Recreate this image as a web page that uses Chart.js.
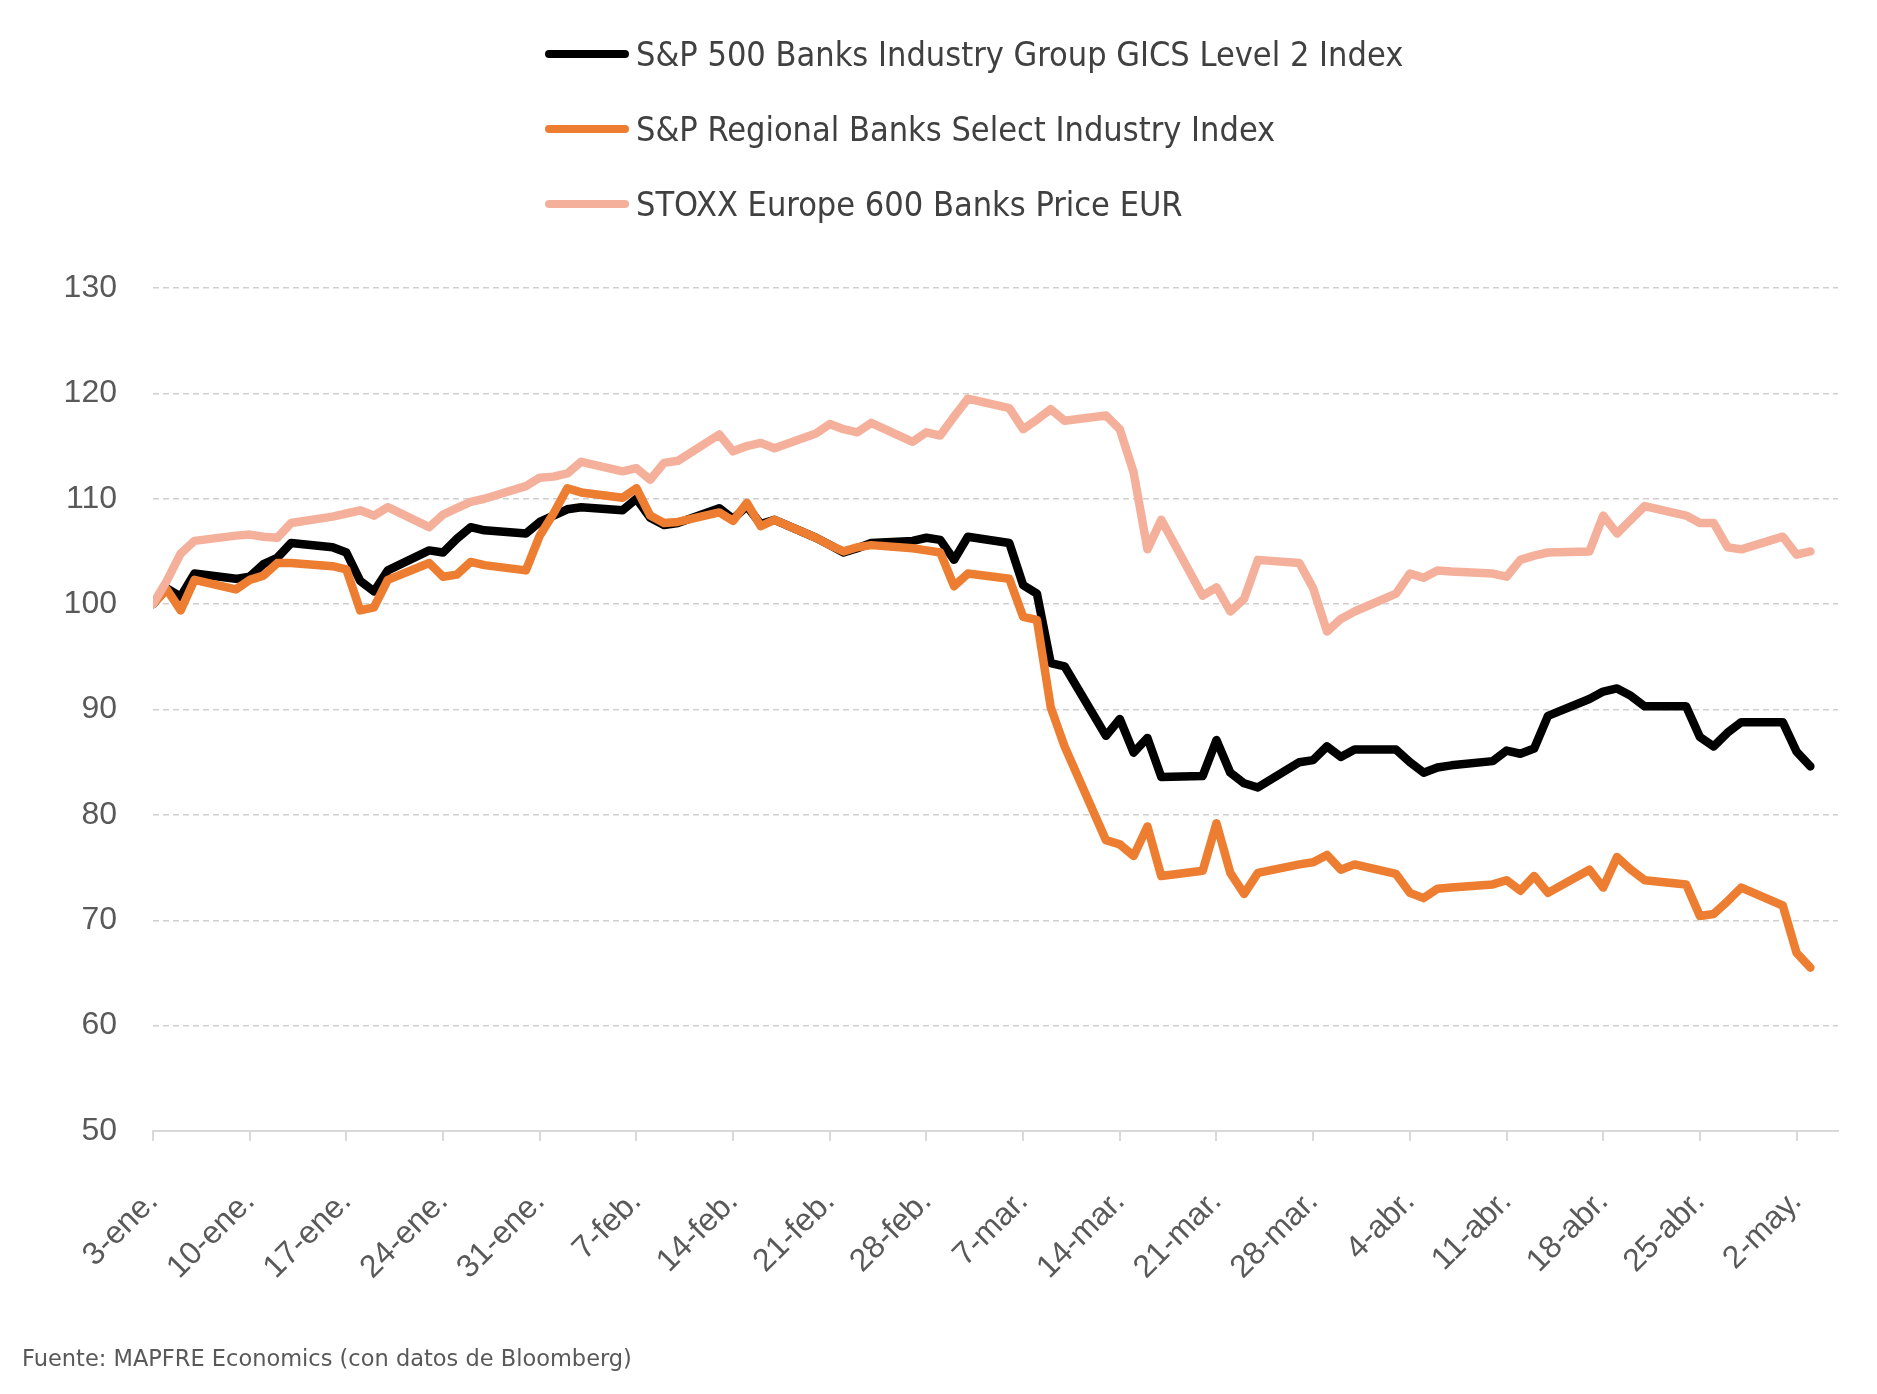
<!DOCTYPE html>
<html lang="es">
<head>
<meta charset="utf-8">
<title>Índices bancarios</title>
<script src="https://cdn.jsdelivr.net/npm/chart.js@4.4.0/dist/chart.umd.min.js"></script>
<style>
  html, body { margin: 0; padding: 0; background: #fff; }
  #page { position: relative; width: 1877px; height: 1394px; overflow: hidden; }
  #chartBox { position: absolute; left: 0; top: 0; width: 1877px; height: 1394px; }
  #legend { position: absolute; left: 545px; top: 0; font-family: 'Liberation Sans Narrow', 'DejaVu Sans Condensed', 'Roboto', sans-serif; font-size: 34px; color: #404040; }
  .legend-item { position: absolute; left: 0; white-space: nowrap; display: flex; align-items: center; height: 40px; }
  .legend-line { width: 84px; height: 8px; border-radius: 4px; margin-right: 7px; }
  #source { position: absolute; left: 22px; top: 1345px; font-family: 'DejaVu Sans', sans-serif; font-size: 22.5px; color: #595959; }
</style>
</head>
<body>
<div id="page">
  <div id="chartBox"><canvas id="banksChart"></canvas></div>
  <div id="legend"></div>
  <div id="source">Fuente: MAPFRE Economics (con datos de Bloomberg)</div>
</div>
<script>
// trading days shown in the chart (2023)
const dates = [
  '2023-01-03', '2023-01-04', '2023-01-05', '2023-01-06',
  '2023-01-09', '2023-01-10', '2023-01-11', '2023-01-12', '2023-01-13',
  '2023-01-16', '2023-01-17', '2023-01-18', '2023-01-19', '2023-01-20',
  '2023-01-23', '2023-01-24', '2023-01-25', '2023-01-26', '2023-01-27',
  '2023-01-30', '2023-01-31', '2023-02-01', '2023-02-02', '2023-02-03',
  '2023-02-06', '2023-02-07', '2023-02-08', '2023-02-09', '2023-02-10',
  '2023-02-13', '2023-02-14', '2023-02-15', '2023-02-16', '2023-02-17',
  '2023-02-20', '2023-02-21', '2023-02-22', '2023-02-23', '2023-02-24',
  '2023-02-27', '2023-02-28', '2023-03-01', '2023-03-02', '2023-03-03',
  '2023-03-06', '2023-03-07', '2023-03-08', '2023-03-09', '2023-03-10',
  '2023-03-13', '2023-03-14', '2023-03-15', '2023-03-16', '2023-03-17',
  '2023-03-20', '2023-03-21', '2023-03-22', '2023-03-23', '2023-03-24',
  '2023-03-27', '2023-03-28', '2023-03-29', '2023-03-30', '2023-03-31',
  '2023-04-03', '2023-04-04', '2023-04-05', '2023-04-06', '2023-04-07',
  '2023-04-10', '2023-04-11', '2023-04-12', '2023-04-13', '2023-04-14',
  '2023-04-17', '2023-04-18', '2023-04-19', '2023-04-20', '2023-04-21',
  '2023-04-24', '2023-04-25', '2023-04-26', '2023-04-27', '2023-04-28',
  '2023-05-01', '2023-05-02', '2023-05-03'
];

const tickLabels = ['3-ene.', '10-ene.', '17-ene.', '24-ene.', '31-ene.', '7-feb.', '14-feb.', '21-feb.',
  '28-feb.', '7-mar.', '14-mar.', '21-mar.', '28-mar.', '4-abr.', '11-abr.', '18-abr.', '25-abr.', '2-may.'];

const seriesNames = [
  'S&P 500 Banks Industry Group GICS Level 2 Index',
  'S&P Regional Banks Select Industry Index',
  'STOXX Europe 600 Banks Price EUR'
];

// base 100 = 3-ene.
const sp500Banks = [
  100, 101.5, 100.7, 102.9,
  102.4, 102.6, 103.8, 104.4, 105.8,
  105.4, 104.9, 102.2, 101.2, 103.2,
  105.1, 104.9, 106.2, 107.3, 107.0,
  106.7, 107.8, 108.4, 109.0, 109.2,
  108.9, 110.0, 108.2, 107.5, 107.7,
  109.1, 108.1, 109.3, 107.6, 108.0,
  106.3, 105.6, 104.9, 105.3, 105.8,
  106.0, 106.3, 106.1, 104.2, 106.4,
  105.8, 101.8, 101.0, 94.4, 94.1,
  87.5, 89.1, 85.9, 87.3, 83.6,
  83.7, 87.1, 84.0, 83.0, 82.6,
  85.0, 85.2, 86.5, 85.5, 86.2,
  86.2, 85.0, 84.0, 84.5, 84.7,
  85.1, 86.1, 85.8, 86.3, 89.4,
  91.0, 91.7, 92.0, 91.3, 90.3,
  90.3, 87.4, 86.5, 87.8, 88.8,
  88.8, 86.0, 84.6
];

const regionalBanks = [
  100, 101.4, 99.4, 102.3,
  101.4, 102.3, 102.7, 103.9, 103.9,
  103.6, 103.3, 99.4, 99.7, 102.3,
  103.9, 102.6, 102.8, 104.0, 103.7,
  103.2, 106.5, 108.6, 111.0, 110.6,
  110.1, 111.0, 108.4, 107.7, 107.8,
  108.7, 107.9, 109.6, 107.4, 108.0,
  106.3, 105.6, 105.0, 105.4, 105.6,
  105.3, 105.1, 104.9, 101.7, 102.9,
  102.4, 98.8, 98.5, 90.2, 86.5,
  77.6, 77.2, 76.1, 78.9, 74.2,
  74.7, 79.2, 74.5, 72.5, 74.5,
  75.3, 75.5, 76.2, 74.8, 75.3,
  74.4, 72.6, 72.1, 73.0, 73.1,
  73.4, 73.8, 72.8, 74.2, 72.6,
  74.8, 73.1, 76.0, 74.8, 73.8,
  73.4, 70.4, 70.6, 71.8, 73.1,
  71.4, 66.9, 65.5
];

const stoxxBanks = [
  100, 102.2, 104.8, 106.0,
  106.5, 106.6, 106.4, 106.3, 107.7,
  108.3, 108.6, 108.9, 108.4, 109.2,
  107.3, 108.5, 109.1, 109.7, 110.0,
  111.2, 112.0, 112.1, 112.4, 113.5,
  112.6, 112.9, 111.8, 113.4, 113.6,
  116.1, 114.5, 115.0, 115.3, 114.8,
  116.2, 117.1, 116.6, 116.3, 117.2,
  115.4, 116.3, 116.0, 117.8, 119.5,
  118.6, 116.6, 117.5, 118.5, 117.4,
  117.9, 116.6, 112.5, 105.2, 108.0,
  100.8, 101.6, 99.3, 100.5, 104.2,
  103.9, 101.5, 97.4, 98.6, 99.3,
  101.0, 102.9, 102.5, 103.2, 103.1,
  102.9, 102.6, 104.2, 104.6, 104.9,
  105.0, 108.4, 106.7, 108.0, 109.3,
  108.4, 107.7, 107.7, 105.4, 105.2,
  106.4, 104.7, 105.0
];

const COLORS = {
  sp500: '#000000',
  regional: '#ED7D31',
  stoxx: '#F4B09B'
};

const START = Date.parse(dates[0]);
const DAY = 86400000;
const tickValues = tickLabels.map((_, i) => i * 7);

function toPoints(values) {
  return dates.map((d, i) => ({ x: (Date.parse(d) - START) / DAY, y: values[i] }));
}

const axisFont = { family: "'Liberation Sans', 'DejaVu Sans', sans-serif", size: 32 };

const datasets = [
  { label: seriesNames[0], data: toPoints(sp500Banks), borderColor: COLORS.sp500, order: 3 },
  { label: seriesNames[1], data: toPoints(regionalBanks), borderColor: COLORS.regional, order: 2 },
  { label: seriesNames[2], data: toPoints(stoxxBanks), borderColor: COLORS.stoxx, order: 1 }
].map(ds => Object.assign(ds, {
  borderWidth: 8.5,
  pointRadius: 0,
  tension: 0,
  fill: false,
  borderJoinStyle: 'round',
  borderCapStyle: 'round'
}));

const chart = new Chart(document.getElementById('banksChart'), {
  type: 'line',
  data: { datasets: datasets },
  options: {
    responsive: true,
    maintainAspectRatio: false,
    animation: false,
    layout: { padding: { left: 0, top: 288, right: 39, bottom: 63 } },
    plugins: {
      legend: { display: false },
      tooltip: { enabled: false }
    },
    scales: {
      x: {
        type: 'linear',
        min: 0,
        max: 122,
        afterBuildTicks: scale => { scale.ticks = tickValues.map(v => ({ value: v })); },
        afterFit: scale => { scale.height = 200; },
        ticks: {
          autoSkip: false,
          maxRotation: 45,
          minRotation: 45,
          padding: 42,
          color: '#595959',
          font: axisFont,
          callback: value => tickLabels[value / 7] || ''
        },
        grid: {
          drawOnChartArea: false,
          drawTicks: true,
          tickLength: 10,
          color: '#d9d9d9',
          lineWidth: 2
        },
        border: { display: true, color: '#d9d9d9', width: 2 }
      },
      y: {
        min: 50,
        max: 130,
        afterFit: scale => { scale.width = 153; },
        ticks: {
          stepSize: 10,
          padding: 36,
          color: '#595959',
          font: axisFont
        },
        grid: {
          drawTicks: false,
          color: '#cfcfcf',
          lineWidth: 1.5
        },
        border: { display: false, dash: [6, 4] }
      }
    }
  }
});

// legend: one series per row, like the original
const legendBox = document.getElementById('legend');
const rowCenters = [54, 129, 204];
datasets.forEach((ds, i) => {
  const item = document.createElement('div');
  item.className = 'legend-item';
  item.style.top = (rowCenters[i] - 20) + 'px';
  const line = document.createElement('span');
  line.className = 'legend-line';
  line.style.background = ds.borderColor;
  const text = document.createElement('span');
  text.textContent = ds.label;
  item.appendChild(line);
  item.appendChild(text);
  legendBox.appendChild(item);
});
</script>
</body>
</html>
